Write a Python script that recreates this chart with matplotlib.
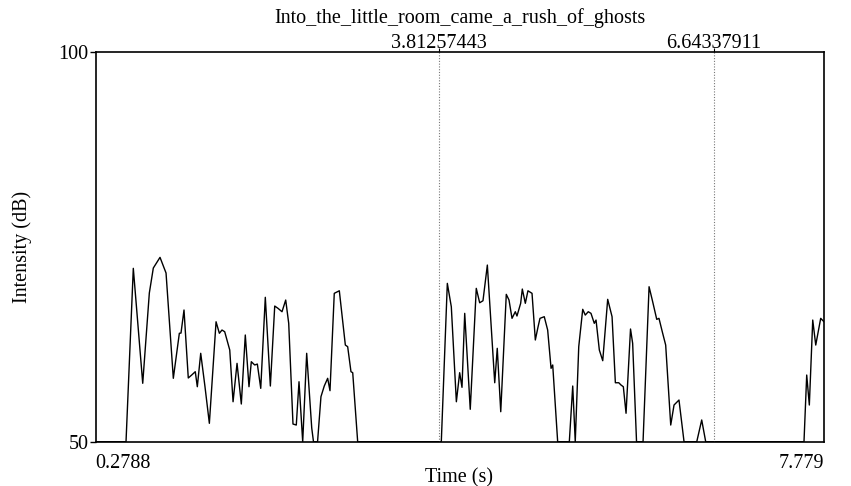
import matplotlib
matplotlib.use("Agg")
import matplotlib.pyplot as plt

title = "Into_the_little_room_came_a_rush_of_ghosts"
x_label = "Time (s)"
y_label = "Intensity (dB)"
t_min, t_max = 0.2788, 7.779
db_min, db_max = 50, 100
x_tick_labels = ["0.2788", "7.779"]
y_tick_labels = ["50", "100"]
boundaries = [3.81257443, 6.64337911]
boundary_labels = ["3.81257443", "6.64337911"]

time_s = [
    0.2788, 0.593, 0.668, 0.765, 0.833, 0.874, 0.943, 1.005, 1.080, 1.142,
    1.159, 1.190, 1.234, 1.269, 1.306, 1.327, 1.362, 1.406, 1.451, 1.520,
    1.554, 1.581, 1.609, 1.661, 1.695, 1.736, 1.780, 1.821, 1.859, 1.883,
    1.918, 1.945, 1.980, 2.027, 2.079, 2.124, 2.158, 2.199, 2.237, 2.268,
    2.312, 2.346, 2.374, 2.412, 2.453, 2.505, 2.523, 2.565, 2.600, 2.634,
    2.669, 2.693, 2.737, 2.789, 2.851, 2.875, 2.909, 2.927, 2.978,
    3.839, 3.901, 3.942, 3.994, 4.028, 4.052, 4.080, 4.137, 4.199, 4.234,
    4.268, 4.313, 4.389, 4.415, 4.451, 4.508, 4.536, 4.567, 4.601, 4.618,
    4.656, 4.673, 4.704, 4.731, 4.773, 4.807, 4.834, 4.855, 4.899, 4.934,
    4.969, 4.986, 5.037, 5.157, 5.192, 5.218, 5.254, 5.295, 5.321, 5.352,
    5.380, 5.414, 5.432, 5.466, 5.501, 5.552, 5.597, 5.631, 5.666, 5.689,
    5.713, 5.741, 5.787, 5.809, 5.849, 5.916, 5.978, 6.011, 6.057, 6.080,
    6.114, 6.149, 6.201, 6.235, 6.286, 6.338, 6.469, 6.520, 6.561,
    7.573, 7.601, 7.628, 7.663, 7.694, 7.745, 7.779,
]
intensity_db = [
    50, 50, 72.26, 57.5, 69.09, 72.3, 73.67, 71.66, 58.14, 63.92,
    63.95, 66.91, 58.18, 58.56, 58.99, 57.06, 61.35, 57.06, 52.36, 65.40,
    63.92, 64.34, 64.12, 61.77, 55.13, 60.06, 54.84, 63.70, 57.06, 60.27,
    59.85, 59.97, 56.85, 68.54, 57.15, 67.42, 67.12, 66.69, 68.19, 65.20,
    52.27, 52.14, 57.70, 50, 61.35, 51.76, 50, 50, 55.78, 57.15,
    58.14, 56.55, 69.05, 69.38, 62.41, 62.20, 58.99, 58.86, 50,
    50, 70.33, 67.33, 55.13, 58.86, 56.98, 66.48, 54.16, 69.69, 67.84,
    68.10, 72.68, 57.57, 61.99, 53.85, 68.92, 68.19, 65.84, 66.69, 66.14,
    67.77, 69.60, 67.77, 69.38, 69.05, 63.06, 64.69, 65.84, 66.05, 64.34,
    59.42, 59.85, 50, 50, 57.15, 50, 62.20, 67.00, 66.26, 66.69,
    66.48, 65.20, 65.62, 61.77, 60.40, 68.28, 66.05, 57.57, 57.57, 57.28,
    57.06, 53.65, 64.47, 62.63, 50, 50, 69.90, 68.19, 65.71, 65.84,
    64.12, 62.41, 52.14, 54.71, 55.35, 50, 50, 52.79, 50,
    50, 58.56, 54.71, 65.62, 62.41, 65.84, 65.40,
]

plt.rcParams["font.family"] = ["Liberation Serif", "DejaVu Serif"]
fs = 14.5

W, H = 851, 486
x0, x1, y0, y1 = 95.5, 824, 52.3, 441.7
fig = plt.figure(figsize=(W / 100, H / 100), dpi=100)
ax = fig.add_axes([x0 / W, 1 - y1 / H, (x1 - x0) / W, (y1 - y0) / H])

ax.plot(time_s, intensity_db, color="black", lw=1.0, solid_joinstyle="round")
for b in boundaries:
    ax.axvline(b, color="#777777", lw=0.8, ls=(0, (1, 1.5)))

ax.set_xlim(t_min, t_max)
ax.set_ylim(db_min, db_max)
ax.set_xticks([t_min, t_max])
ax.set_xticklabels(x_tick_labels, fontsize=fs)
ax.set_yticks([db_min, db_max])
ax.set_yticklabels(y_tick_labels, fontsize=fs)
ax.tick_params(axis="y", direction="out", length=4, width=1.0, pad=1)
ax.tick_params(axis="x", length=0, pad=9)
xl = ax.get_xticklabels()
xl[0].set_ha("left")
xl[1].set_ha("right")

top = ax.secondary_xaxis("top")
top.set_xticks(boundaries)
top.set_xticklabels(boundary_labels, fontsize=fs)
top.tick_params(direction="out", length=3, width=0.8, pad=-3.6)
for s in top.spines.values():
    s.set_visible(False)

for s in ax.spines.values():
    s.set_linewidth(1.2)

ax.set_xlabel(x_label, fontsize=fs)
ax.xaxis.set_label_coords((459 - x0) / (x1 - x0), -(478 - y1) / (y1 - y0))
ax.xaxis.label.set_va("center")
ax.set_ylabel(y_label, fontsize=fs)
ax.yaxis.set_label_coords(-(x0 - 22) / (x1 - x0), 0.5)
ax.yaxis.label.set_va("center")
fig.text(0.5 * (x0 + x1) / W, 1 - 18 / H, title, fontsize=fs, ha="center", va="center")

fig.savefig("out.png", dpi=100)
